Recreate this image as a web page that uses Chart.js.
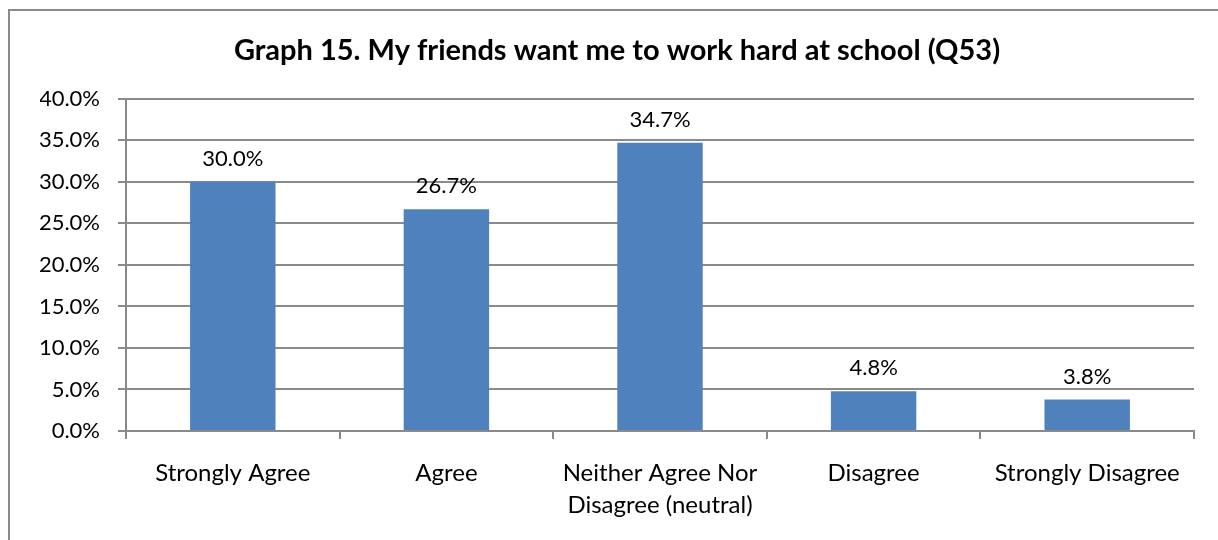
<!DOCTYPE html>
<html>
<head>
<meta charset="utf-8">
<script src="https://cdn.jsdelivr.net/npm/chart.js@4"></script>
<style>
  html, body { margin: 0; padding: 0; background: #fff; overflow: hidden; }
  #marco { position: absolute; left: 8px; top: 9px; width: 1300px; height: 600px; border: 2px solid #8a8a8a; }
  #lienzo { position: absolute; left: 0; top: 0; width: 1218px; height: 540px; }
</style>
</head>
<body>
<div id="marco"></div>
<div id="lienzo"><canvas id="grafica"></canvas></div>
<script>
const titulo = 'Graph 15. My friends want me to work hard at school (Q53)';
const categorias = ['Strongly Agree', 'Agree', ['Neither Agree Nor', 'Disagree (neutral)'], 'Disagree', 'Strongly Disagree'];
const porcentajes = [30.0, 26.7, 34.7, 4.8, 3.8];
const ticksY = [0, 5, 10, 15, 20, 25, 30, 35, 40];

const fuente = 'Lato, "Open Sans", sans-serif';
const gris = '#8a8a8a';

// etiquetas de valor encima de cada barra
const etiquetasValor = {
    id: 'etiquetasValor',
    afterDatasetsDraw(chart) {
        const ctx = chart.ctx;
        const meta = chart.getDatasetMeta(0);
        ctx.save();
        ctx.font = '22px ' + fuente;
        ctx.fillStyle = '#000';
        ctx.textAlign = 'center';
        ctx.textBaseline = 'bottom';
        meta.data.forEach((barra, i) => {
            ctx.fillText(porcentajes[i].toFixed(1) + '%', barra.x, barra.y - 12);
        });
        ctx.restore();
    }
};

new Chart(document.getElementById('grafica').getContext('2d'), {
    type: 'bar',
    data: {
        labels: categorias,
        datasets: [{
            data: porcentajes,
            backgroundColor: '#4f81bd',
            borderWidth: 0,
            categoryPercentage: 1,
            barPercentage: 0.4
        }]
    },
    options: {
        responsive: true,
        maintainAspectRatio: false,
        animation: false,
        layout: { padding: { left: 40, right: 24, top: 0, bottom: 0 } },
        plugins: {
            legend: { display: false },
            tooltip: { enabled: false },
            title: {
                display: true,
                text: titulo,
                color: '#000',
                font: { family: fuente, size: 29, weight: 'bold', lineHeight: 1.2 },
                padding: { top: 33, bottom: 31 }
            }
        },
        scales: {
            y: {
                min: 0,
                max: 40,
                afterBuildTicks(scale) { scale.ticks = ticksY.map(v => ({ value: v })); },
                afterFit(scale) { scale.width = 86; },
                grid: { color: gris, lineWidth: 2, tickLength: 8, drawTicks: true },
                border: { display: true, color: gris, width: 2 },
                ticks: {
                    color: '#000',
                    padding: 18,
                    font: { family: fuente, size: 22 },
                    callback: v => v.toFixed(1) + '%'
                }
            },
            x: {
                afterFit(scale) { scale.height = 109; },
                grid: { color: gris, lineWidth: 2, offset: true, drawOnChartArea: false, tickLength: 8 },
                border: { display: true, color: gris, width: 2 },
                ticks: {
                    color: '#000',
                    padding: 19,
                    maxRotation: 0,
                    autoSkip: false,
                    font: { family: fuente, size: 24, lineHeight: 1.3 }
                }
            }
        }
    },
    plugins: [etiquetasValor]
});
</script>
</body>
</html>
